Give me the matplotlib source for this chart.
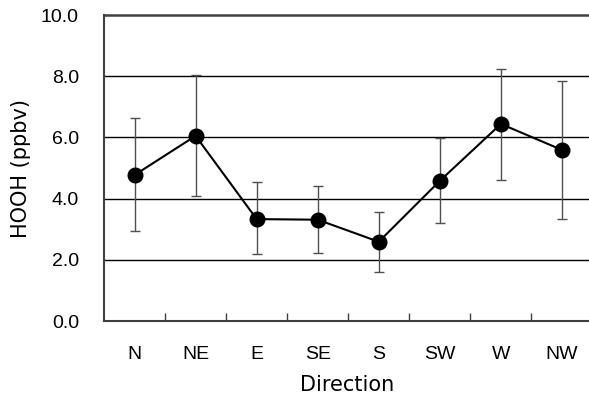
import matplotlib
matplotlib.use('Agg')
import matplotlib.pyplot as plt
import numpy as np

plt.rcParams['font.family'] = ['Liberation Sans', 'DejaVu Sans']

directions = ['N', 'NE', 'E', 'SE', 'S', 'SW', 'W', 'NW']
hooh = [4.77, 6.05, 3.33, 3.31, 2.59, 4.58, 6.44, 5.59]
err_hi = [6.63, 8.04, 4.54, 4.41, 3.57, 5.98, 8.24, 7.84]
err_lo = [2.94, 4.08, 2.19, 2.23, 1.60, 3.20, 4.60, 3.33]

x = np.arange(len(directions))
yerr = [np.array(hooh) - np.array(err_lo), np.array(err_hi) - np.array(hooh)]

fig = plt.figure(figsize=(5.89, 3.98), dpi=100)
# axes deliberately runs past the right edge, like the original
ax = fig.add_axes([104 / 589, 1 - 321 / 398, (592.5 - 104) / 589, (321 - 15) / 398])

for yv in [2, 4, 6, 8]:
    ax.axhline(yv, color='black', lw=1.0, zorder=1)
ax.axhline(10, color='#404040', lw=1.8, zorder=1, clip_on=False)

ax.errorbar(x, hooh, yerr=yerr, fmt='none', ecolor='#505050', elinewidth=1.0,
            capsize=3.5, capthick=1.0, zorder=2)
ax.plot(x, hooh, color='black', lw=1.5, marker='o', markersize=10.5,
        markerfacecolor='black', markeredgecolor='black', zorder=3)

ax.set_xlim(-0.5, 7.5)
ax.set_ylim(0, 10)
ax.set_yticks(np.arange(0, 10.1, 2))
ax.set_yticklabels(['%.1f' % v for v in np.arange(0, 10.1, 2)], fontsize=14)
ax.tick_params(axis='y', length=0, pad=18)

ax.set_xticks(x + 0.5, minor=False)
ax.set_xticklabels([])
ax.tick_params(axis='x', direction='in', length=6, width=1, color='#404040')
ax.set_xticks(x, minor=True)
ax.set_xticklabels(directions, minor=True, fontsize=14)
ax.tick_params(axis='x', which='minor', length=0, pad=18)

for s in ['top', 'right']:
    ax.spines[s].set_visible(False)
for s in ['left', 'bottom']:
    ax.spines[s].set_color('#404040')
    ax.spines[s].set_linewidth(1.5)

ax.set_ylabel('HOOH (ppbv)', fontsize=15, family='DejaVu Sans')
ax.yaxis.set_label_coords(-0.149, 0.5)
ax.set_xlabel('Direction', fontsize=15, family='DejaVu Sans')
ax.xaxis.set_label_coords(0.498, -0.175)

fig.savefig('out.png', dpi=100)
